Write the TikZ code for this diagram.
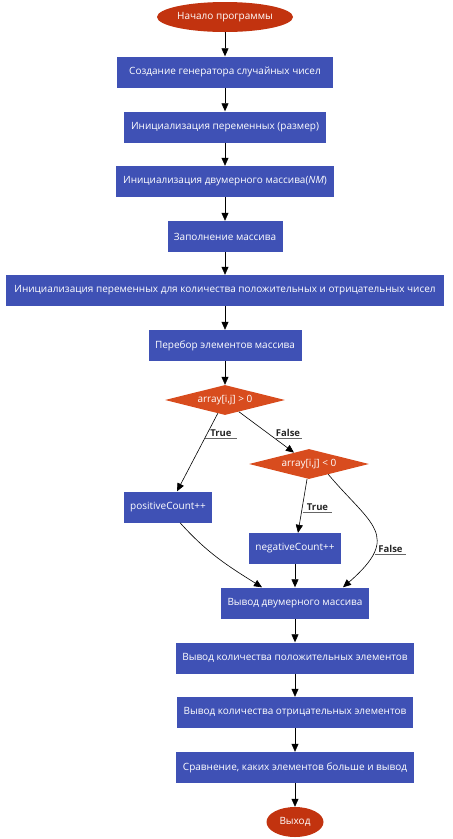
\documentclass[tikz,border=0pt]{standalone}
\usepackage{fontspec}
\setmainfont{Open Sans}
\usetikzlibrary{arrows.meta,calc,shapes.geometric}
\definecolor{boxblue}{HTML}{3F51B5}
\definecolor{ovalred}{HTML}{C2330F}
\definecolor{diaorange}{HTML}{D84C1E}
\begin{document}
\begin{tikzpicture}[x=1pt,y=-1pt,
  box/.style={fill=boxblue, text=white, minimum height=31pt, inner sep=0pt, font=\fontsize{10}{12}\selectfont},
  oval/.style={ellipse, fill=ovalred, text=white, inner sep=0pt, font=\fontsize{10}{12}\selectfont},
  dia/.style={diamond, fill=diaorange, text=white, inner sep=0pt, minimum width=120pt, minimum height=30pt, aspect=4, font=\fontsize{10}{12}\selectfont},
  arr/.style={-{Triangle[length=8pt,width=7pt]}, black, line width=0.6pt},
  lbl/.style={anchor=south, inner sep=1pt, font=\fontsize{9.5}{11}\selectfont\bfseries, text=black!85},
  uline/.style={black!60, line width=0.6pt}
]
\useasboundingbox (0,0) rectangle (453,839);
\node[oval, minimum width=136pt, minimum height=30pt] (start) at (225,17) {Начало программы};
\node[box, minimum width=216pt] (b1) at (225,72) {Создание генератора случайных чисел};
\node[box, minimum width=202pt] (b2) at (225,127) {Инициализация переменных (размер)};
\node[box, minimum width=218pt] (b3) at (225,181.5) {Инициализация двумерного массива(\textit{NM})};
\node[box, minimum width=115pt] (b4) at (225,236.5) {Заполнение массива};
\node[box, minimum width=438pt] (b5) at (225,290.5) {Инициализация переменных для количества положительных и отрицательных чисел};
\node[box, minimum width=153pt] (b6) at (225,345.5) {Перебор элементов массива};
\node[dia] (d1) at (225,400) {array[i,j] > 0};
\node[dia] (d2) at (309,464) {array[i,j] < 0};
\node[box, minimum width=88pt] (pos) at (168,507) {positiveCount++};
\node[box, minimum width=92pt] (neg) at (295,548.5) {negativeCount++};
\node[box, minimum width=148pt] (out2d) at (295,603) {Вывод двумерного массива};
\node[box, minimum width=238pt] (outp) at (295,658) {Вывод количества положительных элементов};
\node[box, minimum width=236pt] (outn) at (295,712.5) {Вывод количества отрицательных элементов};
\node[box, minimum width=238pt] (cmp) at (295,767.5) {Сравнение, каких элементов больше и вывод};
\node[oval, minimum width=57pt, minimum height=30pt] (exit) at (295,822) {Выход};

\draw[arr] (start) -- (b1);
\draw[arr] (b1) -- (b2);
\draw[arr] (b2) -- (b3);
\draw[arr] (b3) -- (b4);
\draw[arr] (b4) -- (b5);
\draw[arr] (b5) -- (b6);
\draw[arr] (b6) -- (d1);
\draw[arr] ($(d1.south)!0.12!(d1.west)$) -- ([xshift=9pt]pos.north);
\draw[arr] ($(d1.south)!0.23!(d1.east)$) -- ($(d2.north)!0.25!(d2.west)$);
\draw[arr] ([xshift=-2pt]d2.south) -- ([xshift=3pt]neg.north);
\draw[arr] ($(d2.south)!0.32!(d2.east)$) .. controls +(42,50) and +(60,-52) .. ([xshift=48pt]out2d.north);
\draw[arr] ([xshift=12pt]pos.south) to[out=-48,in=148] ([xshift=-33pt]out2d.north);
\draw[arr] (neg) -- (out2d);
\draw[arr] (out2d) -- (outp);
\draw[arr] (outp) -- (outn);
\draw[arr] (outn) -- (cmp);
\draw[arr] (cmp) -- (exit);

\node[lbl, minimum width=32pt] (t1) at (221,438) {True};
\draw[uline] (t1.south west) -- (t1.south east);
\node[lbl, minimum width=28pt] (f1) at (288,438) {False};
\draw[uline] (f1.south west) -- (f1.south east);
\node[lbl, minimum width=29pt] (t2) at (317.5,512) {True};
\draw[uline] (t2.south west) -- (t2.south east);
\node[lbl, minimum width=31pt] (f2) at (390.5,554) {False};
\draw[uline] (f2.south west) -- (f2.south east);
\end{tikzpicture}
\end{document}
